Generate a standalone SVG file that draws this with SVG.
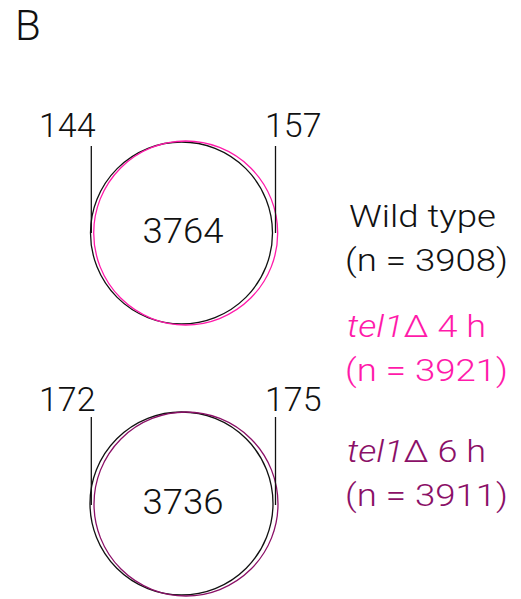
<svg xmlns="http://www.w3.org/2000/svg" width="521" height="599" viewBox="0 0 521 599">
<style>
text{font-family:"Roboto","Liberation Sans",sans-serif;font-weight:300;fill:#111}
.num{font-size:34px}
.ctr{font-size:35px;text-anchor:middle}
.leg{font-size:32px}
.mag{fill:#ff1aaa}
.pur{fill:#8b1067}
.c{fill:none;stroke-width:1.3}
.ln{stroke:#111;stroke-width:1.3}
</style>
<rect width="521" height="599" fill="#fff"/>
<text x="15" y="40" style="font-size:42px">B</text>
<g id="venn-top">
<circle class="c" cx="181.5" cy="233" r="91" stroke="#111"/>
<circle class="c" cx="185.7" cy="233" r="92" stroke="#ff1aaa"/>
<text class="ctr" x="183" y="243" textLength="81" lengthAdjust="spacingAndGlyphs">3764</text>
</g>
<g id="venn-bottom">
<circle class="c" cx="181.5" cy="503.5" r="91.5" stroke="#111"/>
<circle class="c" cx="186" cy="504" r="92" stroke="#8b1067"/>
<text class="ctr" x="183" y="514" textLength="81" lengthAdjust="spacingAndGlyphs">3736</text>
</g>
<g id="labels">
<text class="num" x="39" y="137">144</text>
<text class="num" x="265" y="137">157</text>
<text class="num" x="39" y="411">172</text>
<text class="num" x="265" y="411">175</text>
</g>
<g id="connectors">
<line class="ln" x1="91.3" y1="146" x2="91.3" y2="233"/>
<line class="ln" x1="275.5" y1="146" x2="275.5" y2="233"/>
<line class="ln" x1="91.3" y1="417" x2="91.3" y2="505"/>
<line class="ln" x1="275.5" y1="417" x2="275.5" y2="505"/>
</g>
<g id="legend">
<text class="leg" x="349" y="227" textLength="147" lengthAdjust="spacingAndGlyphs">Wild type</text>
<text class="leg" x="345" y="271" textLength="163" lengthAdjust="spacingAndGlyphs">(n = 3908)</text>
<text class="leg mag" x="347" y="337" textLength="139" lengthAdjust="spacingAndGlyphs"><tspan font-style="italic">tel1</tspan>Δ 4 h</text>
<text class="leg mag" x="345" y="381" textLength="163" lengthAdjust="spacingAndGlyphs">(n = 3921)</text>
<text class="leg pur" x="347" y="462" textLength="139" lengthAdjust="spacingAndGlyphs"><tspan font-style="italic">tel1</tspan>Δ 6 h</text>
<text class="leg pur" x="345" y="506" textLength="163" lengthAdjust="spacingAndGlyphs">(n = 3911)</text>
</g>
</svg>
